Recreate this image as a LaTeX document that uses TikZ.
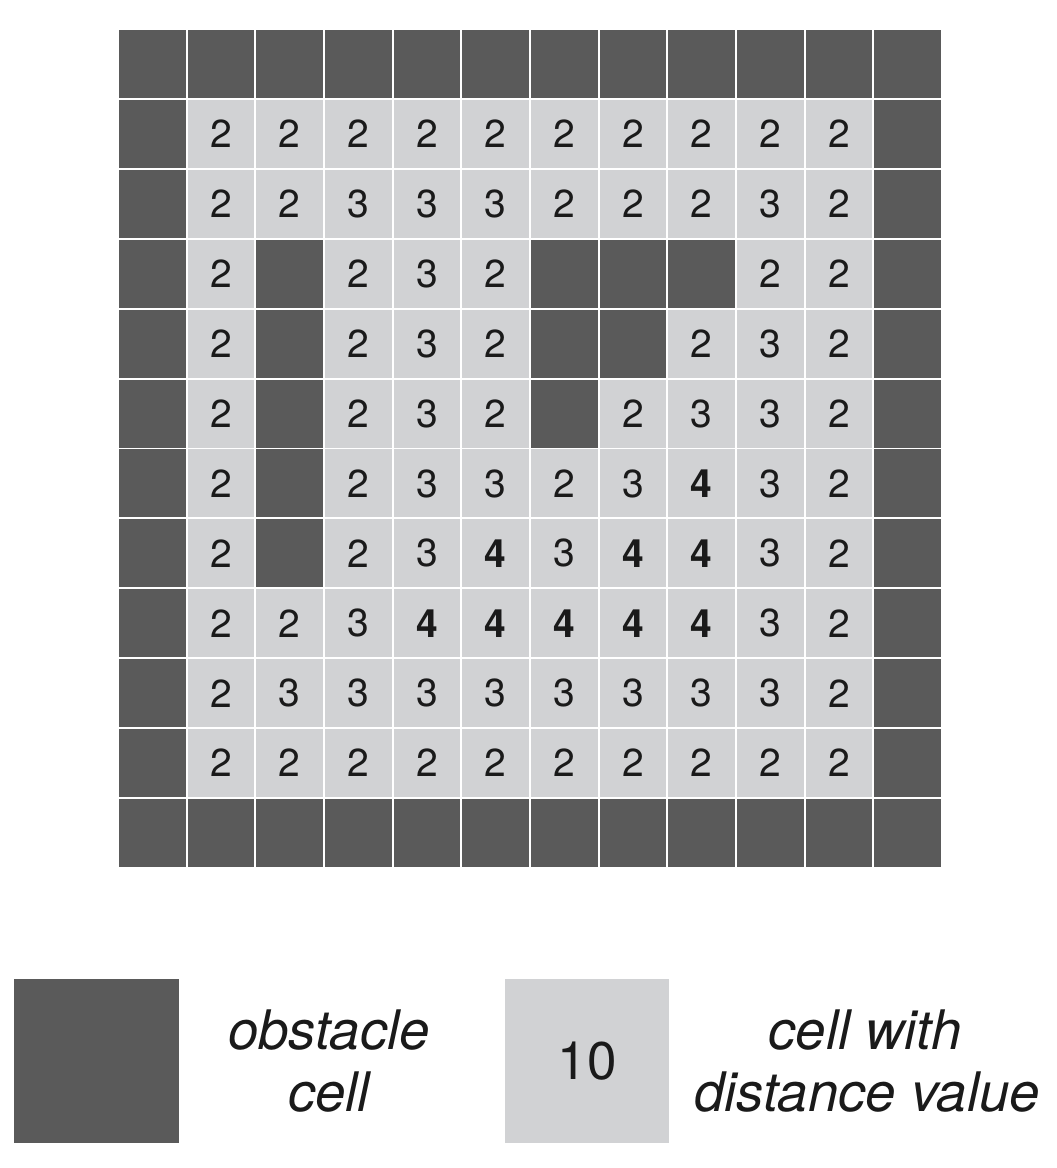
\documentclass[tikz,border=0pt]{standalone}
\usepackage{fontspec}
\setmainfont{TeX Gyre Heros}
\definecolor{obstgray}{HTML}{5A5A5A}
\definecolor{freegray}{HTML}{D1D2D4}
\definecolor{inkcol}{HTML}{1A1A1A}
\begin{document}
\begin{tikzpicture}[x=1pt,y=1pt,
  obst/.style={rectangle, fill=obstgray, draw=none, minimum width=66.7pt, minimum height=68pt, inner sep=0pt},
  free/.style={rectangle, fill=freegray, draw=none, minimum width=66.7pt, minimum height=68pt, inner sep=0pt, text=inkcol, font=\fontsize{39}{39}\selectfont},
  freebold/.style={free, font=\fontsize{39}{39}\selectfont\bfseries},
  legtext/.style={text=inkcol, font=\fontsize{54.5}{64}\selectfont\itshape, inner sep=0pt, anchor=base}
]
\useasboundingbox[fill=white] (0,0) rectangle (1057,-1168);
\foreach \rowvals [count=\r from 0] in {
  {0,0,0,0,0,0,0,0,0,0,0,0},
  {0,2,2,2,2,2,2,2,2,2,2,0},
  {0,2,2,3,3,3,2,2,2,3,2,0},
  {0,2,0,2,3,2,0,0,0,2,2,0},
  {0,2,0,2,3,2,0,0,2,3,2,0},
  {0,2,0,2,3,2,0,2,3,3,2,0},
  {0,2,0,2,3,3,2,3,4,3,2,0},
  {0,2,0,2,3,4,3,4,4,3,2,0},
  {0,2,2,3,4,4,4,4,4,3,2,0},
  {0,2,3,3,3,3,3,3,3,3,2,0},
  {0,2,2,2,2,2,2,2,2,2,2,0},
  {0,0,0,0,0,0,0,0,0,0,0,0}}{
  \foreach \v [count=\c from 0] in \rowvals {
    \pgfmathsetmacro\cx{118+68.67*(\c+0.5)}
    \pgfmathsetmacro\cy{-(29+69.92*(\r+0.5))}
    \ifnum\v=0
      \node[obst] (c-\r-\c) at (\cx,\cy) {};
    \else\ifnum\v=4
      \node[freebold] (c-\r-\c) at (\cx,\cy) {4};
    \else
      \node[free] (c-\r-\c) at (\cx,\cy) {\v};
    \fi\fi
  }
}
% legend
\node[obst, minimum width=165pt, minimum height=164pt] (legobst) at (96.5,-1061) {};
\node[legtext] (legobsta) at (329,-1049) {obstacle};
\node[legtext] (legobstb) at (329,-1111) {cell};
\node[free, minimum width=164pt, minimum height=164pt, font=\fontsize{53}{53}\selectfont] (legfree) at (587,-1061) {10};
\node[legtext] (legfreea) at (865,-1049) {cell with};
\node[legtext] (legfreeb) at (867,-1111) {distance value};
\end{tikzpicture}
\end{document}
